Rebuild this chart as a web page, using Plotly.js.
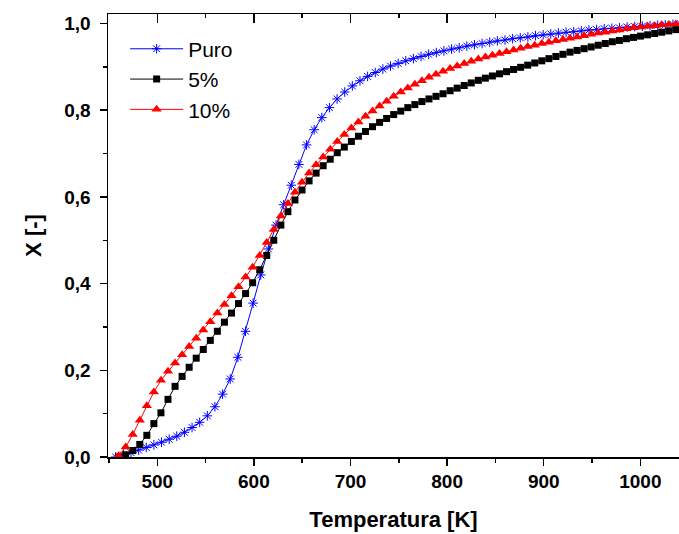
<!DOCTYPE html>
<html>
<head>
<meta charset="utf-8">
<script src="https://cdn.plot.ly/plotly-3.0.1.min.js"></script>
<style>html,body{margin:0;padding:0;background:#fff;}#chart{width:679px;height:534px;}</style>
</head>
<body>
<div id="chart"></div>
<script>
// Puro (blue)
const tPuro = [457, 464.9, 472.8, 480.7, 488.6, 496.5, 504.4, 512.3, 520.2, 528.1, 536, 543.9, 551.8, 559.7, 567.6, 575.5, 583.4, 591.3, 599.2, 607.1, 615, 622.9, 630.8, 638.7, 646.6, 654.5, 662.4, 670.3, 678.2, 686.1, 694, 701.9, 709.8, 717.7, 725.6, 733.5, 741.4, 749.3, 757.2, 765.1, 773, 780.9, 788.8, 796.7, 804.6, 812.5, 820.4, 828.3, 836.2, 844.1, 852, 859.9, 867.8, 875.7, 883.6, 891.5, 899.4, 907.3, 915.2, 923.1, 931, 938.9, 946.8, 954.7, 962.6, 970.5, 978.4, 986.3, 994.2, 1002.1, 1010, 1017.9, 1025.8, 1033.7, 1041.6];
const xPuro = [0.0, 0.005, 0.01, 0.016, 0.022, 0.028, 0.034, 0.041, 0.048, 0.057, 0.068, 0.08, 0.095, 0.116, 0.145, 0.18, 0.23, 0.29, 0.355, 0.42, 0.48, 0.535, 0.582, 0.627, 0.675, 0.72, 0.755, 0.783, 0.806, 0.826, 0.842, 0.856, 0.868, 0.878, 0.887, 0.895, 0.902, 0.908, 0.914, 0.919, 0.924, 0.929, 0.933, 0.937, 0.941, 0.944, 0.948, 0.951, 0.954, 0.957, 0.96, 0.962, 0.965, 0.967, 0.969, 0.972, 0.974, 0.976, 0.978, 0.98, 0.981, 0.983, 0.985, 0.986, 0.988, 0.989, 0.99, 0.992, 0.993, 0.994, 0.995, 0.996, 0.997, 0.998, 0.999];

// 5% (black) and 10% (red) share temperatures
const tMix = [460.0, 467.3, 474.6, 481.9, 489.2, 496.5, 503.8, 511.1, 518.4, 525.7, 533.0, 540.3, 547.6, 554.9, 562.2, 569.5, 576.8, 584.1, 591.4, 598.7, 606.0, 613.3, 620.6, 627.9, 635.2, 642.5, 649.8, 657.1, 664.4, 671.7, 679.0, 686.3, 693.6, 700.9, 708.2, 715.5, 722.8, 730.1, 737.4, 744.7, 752.0, 759.3, 766.6, 773.9, 781.2, 788.5, 795.8, 803.1, 810.4, 817.7, 825.0, 832.3, 839.6, 846.9, 854.2, 861.5, 868.8, 876.1, 883.4, 890.7, 898.0, 905.3, 912.6, 919.9, 927.2, 934.5, 941.8, 949.1, 956.4, 963.7, 971.0, 978.3, 985.6, 992.9, 1000.2, 1007.5, 1014.8, 1022.1, 1029.4, 1036.7, 1044.0];
const x5 = [0.0, 0.005, 0.015, 0.029, 0.05, 0.077, 0.102, 0.133, 0.163, 0.186, 0.207, 0.228, 0.248, 0.269, 0.29, 0.311, 0.332, 0.354, 0.377, 0.402, 0.432, 0.465, 0.5, 0.535, 0.566, 0.593, 0.616, 0.637, 0.655, 0.672, 0.687, 0.702, 0.715, 0.728, 0.74, 0.751, 0.762, 0.772, 0.781, 0.79, 0.798, 0.806, 0.813, 0.82, 0.826, 0.832, 0.838, 0.845, 0.851, 0.857, 0.863, 0.869, 0.874, 0.879, 0.884, 0.889, 0.894, 0.899, 0.904, 0.909, 0.914, 0.919, 0.924, 0.929, 0.934, 0.938, 0.942, 0.946, 0.95, 0.954, 0.958, 0.961, 0.965, 0.968, 0.971, 0.974, 0.977, 0.98, 0.983, 0.986, 0.988];
const x10 = [0.003, 0.023, 0.052, 0.085, 0.118, 0.15, 0.177, 0.198, 0.217, 0.236, 0.255, 0.274, 0.293, 0.312, 0.332, 0.352, 0.372, 0.393, 0.415, 0.438, 0.465, 0.495, 0.525, 0.556, 0.585, 0.611, 0.634, 0.655, 0.674, 0.692, 0.71, 0.728, 0.744, 0.759, 0.773, 0.786, 0.798, 0.81, 0.821, 0.832, 0.842, 0.851, 0.86, 0.868, 0.876, 0.883, 0.89, 0.896, 0.902, 0.908, 0.913, 0.918, 0.923, 0.927, 0.931, 0.935, 0.939, 0.943, 0.947, 0.95, 0.954, 0.957, 0.96, 0.963, 0.966, 0.969, 0.972, 0.975, 0.978, 0.98, 0.983, 0.985, 0.988, 0.99, 0.992, 0.994, 0.995, 0.997, 0.998, 0.999, 1.0];

const seriesNames = ['Puro', '5%', '10%'];
const xRange = [449, 1040];
const yRange = [0, 1.022];

const tickFont = {family: 'Arial, "Liberation Sans", sans-serif', size: 19, color: '#000', weight: 'bold'};
const titleFont = {family: 'Arial, "Liberation Sans", sans-serif', size: 22, color: '#000', weight: 'bold'};

const traces = [
  {x: tPuro, y: xPuro, name: seriesNames[0], mode: 'lines+markers', type: 'scatter',
   line: {color: '#0000ff', width: 1}, marker: {symbol: 'asterisk-open', size: 8, color: '#0000ff', line: {color: '#0000ff', width: 1}}},
  {x: tMix, y: x5, name: seriesNames[1], mode: 'lines+markers', type: 'scatter',
   line: {color: '#000000', width: 1}, marker: {symbol: 'square', size: 7, color: '#000000'}},
  {x: tMix, y: x10, name: seriesNames[2], mode: 'lines+markers', type: 'scatter',
   line: {color: '#ff0000', width: 1}, marker: {symbol: 'triangle-up', size: 9, color: '#ff0000'}},
  {x: tMix, y: x5, xaxis: 'x2', mode: 'markers', type: 'scatter', showlegend: false, hoverinfo: 'skip',
   marker: {opacity: 0}}
];

const layout = {
  width: 679, height: 534,
  margin: {l: 108, r: 0, t: 14, b: 77, pad: 0},
  paper_bgcolor: '#fff', plot_bgcolor: '#fff',
  separators: ',.',
  showlegend: true,
  legend: {x: 0.03, y: 0.967, xanchor: 'left', yanchor: 'top', bgcolor: 'rgba(0,0,0,0)', borderwidth: 0,
           font: {family: 'Arial, "Liberation Sans", sans-serif', size: 21, color: '#000'}, itemwidth: 53, tracegroupgap: 0},
  xaxis: {range: xRange, showgrid: false, zeroline: false, showline: true, linecolor: '#000', linewidth: 1.5,
          ticks: 'outside', ticklen: 7, tickwidth: 1.5, tickcolor: '#000', tick0: 500, dtick: 100,
          minor: {dtick: 50, ticks: 'outside', ticklen: 4, tickwidth: 1.5, tickcolor: '#000', showgrid: false},
          tickfont: tickFont, title: {text: 'Temperatura [K]', font: titleFont, standoff: 20}},
  xaxis2: {range: xRange, overlaying: 'x', side: 'top', showgrid: false, zeroline: false, showline: true, linecolor: '#000', linewidth: 1.5,
           ticks: 'inside', ticklen: 9, tickwidth: 1.5, tickcolor: '#000', tick0: 500, dtick: 100, showticklabels: false,
           minor: {dtick: 50, ticks: 'inside', ticklen: 4, tickwidth: 1.5, tickcolor: '#000', showgrid: false}},
  yaxis: {range: yRange, showgrid: false, zeroline: false, showline: true, linecolor: '#000', linewidth: 1.5,
          ticks: 'outside', ticklen: 7, tickwidth: 1.5, tickcolor: '#000', tick0: 0, dtick: 0.2, tickformat: '.1f',
          ticklabelstandoff: 5,
          minor: {dtick: 0.1, ticks: 'outside', ticklen: 4, tickwidth: 1.5, tickcolor: '#000', showgrid: false},
          tickfont: tickFont, title: {text: 'X [-]', font: titleFont, standoff: 16}}
};

Plotly.newPlot('chart', traces, layout, {displayModeBar: false, staticPlot: true});
</script>
</body>
</html>
